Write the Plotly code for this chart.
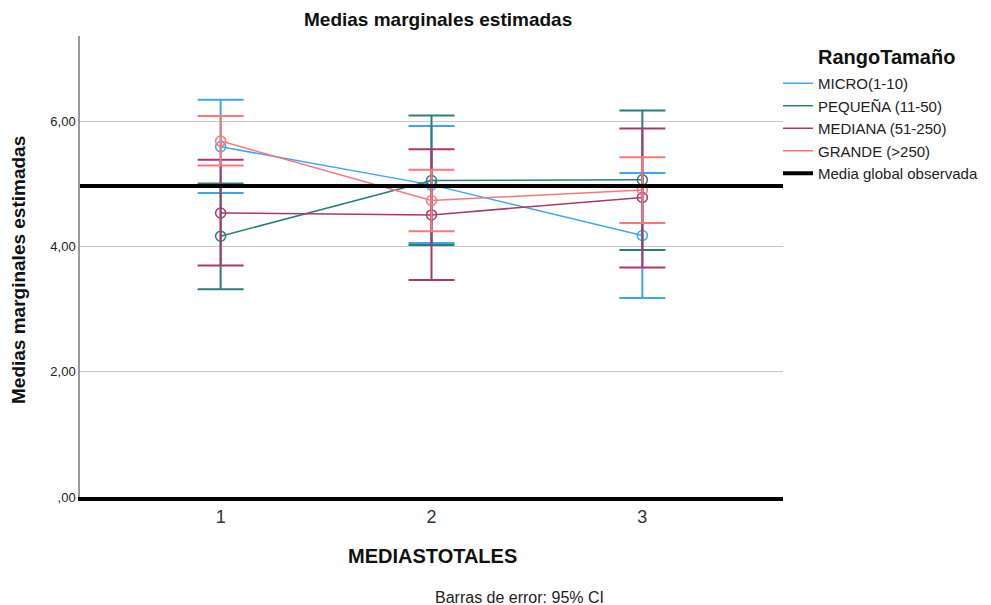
import plotly.graph_objects as go

# Estimated marginal means by MEDIASTOTALES level, one series per company size band
categories = [1, 2, 3]
series_names = ["MICRO(1-10)", "PEQUEÑA (11-50)", "MEDIANA (51-250)", "GRANDE (>250)"]

micro_mean = [5.60, 4.99, 4.18]
micro_low = [4.86, 4.06, 3.18]
micro_high = [6.35, 5.93, 5.18]

pequena_mean = [4.17, 5.06, 5.07]
pequena_low = [3.32, 4.03, 3.95]
pequena_high = [5.01, 6.10, 6.18]

mediana_mean = [4.54, 4.51, 4.79]
mediana_low = [3.70, 3.47, 3.67]
mediana_high = [5.39, 5.56, 5.89]

grande_mean = [5.69, 4.74, 4.91]
grande_low = [5.30, 4.25, 4.38]
grande_high = [6.09, 5.23, 5.43]

global_mean = 4.97

y_ticks = [0, 2, 4, 6]
y_tick_labels = [",00", "2,00", "4,00", "6,00"]
x_range = [0.333, 3.667]
y_range = [0, 7.37]

colors = ["#3ea6ec", "#2c7d77", "#a63a70", "#f7777d"]
font = "Liberation Sans, Arial, sans-serif"

series = [
    (micro_mean, micro_low, micro_high),
    (pequena_mean, pequena_low, pequena_high),
    (mediana_mean, mediana_low, mediana_high),
    (grande_mean, grande_low, grande_high),
]

# Figure geometry (pixels)
W, H = 991, 605
ML, MR, MT, MB = 80, 208, 36, 108
plot_w = W - ML - MR
plot_h = H - MT - MB


def px_to_paper(px, py):
    return (px - ML) / plot_w, (H - MB - py) / plot_h


fig = go.Figure()

for name, color, (mean, low, high) in zip(series_names, colors, series):
    fig.add_trace(go.Scatter(
        x=categories,
        y=mean,
        name=name,
        mode="lines+markers",
        showlegend=False,
        line=dict(color=color, width=1.5),
        marker=dict(symbol="circle-open", size=10, color=color, line=dict(width=1.5)),
        error_y=dict(
            type="data",
            symmetric=False,
            array=[h - m for h, m in zip(high, mean)],
            arrayminus=[m - l for m, l in zip(mean, low)],
            color=color,
            thickness=2,
            width=23,
        ),
    ))

# Legend entries drawn as plain line keys
for name, color in zip(series_names, colors):
    fig.add_trace(go.Scatter(
        x=[None], y=[None], name=name, mode="lines",
        line=dict(color=color, width=1.5),
    ))

# Observed grand mean across the whole plot width
fig.add_trace(go.Scatter(
    x=x_range,
    y=[global_mean, global_mean],
    name="Media global observada",
    mode="lines",
    line=dict(color="black", width=4),
    cliponaxis=False,
))

lx, ly = px_to_paper(778, 67)

fig.update_layout(
    width=W,
    height=H,
    margin=dict(l=ML, r=MR, t=MT, b=MB, autoexpand=False),
    paper_bgcolor="white",
    plot_bgcolor="white",
    font=dict(family=font, color="#222"),
    showlegend=True,
    legend=dict(
        x=lx, xanchor="left",
        y=ly, yanchor="top",
        font=dict(size=15, color="#222"),
        tracegroupgap=0,
        itemwidth=30,
        bgcolor="rgba(0,0,0,0)",
    ),
    xaxis=dict(
        range=x_range,
        tickvals=categories,
        ticktext=[str(c) for c in categories],
        tickfont=dict(size=18, color="#333"),
        showgrid=False,
        showline=True,
        linecolor="black",
        linewidth=4,
        ticks="",
        zeroline=False,
    ),
    yaxis=dict(
        range=y_range,
        tickvals=y_ticks,
        ticktext=y_tick_labels,
        tickfont=dict(size=13, color="#222"),
        showgrid=True,
        gridcolor="#c8c8c8",
        gridwidth=1,
        showline=True,
        linecolor="#999",
        linewidth=1.5,
        ticks="",
        zeroline=False,
    ),
)

tx, ty = px_to_paper(438, 20)
axx, axy = px_to_paper(432, 556)
fx, fy = px_to_paper(519, 597)
yx, yy = px_to_paper(18, 270)
gx, gy = px_to_paper(886, 57)

fig.add_annotation(text="<b>Medias marginales estimadas</b>", x=tx, y=ty, xref="paper", yref="paper",
                   showarrow=False, font=dict(size=19, color="#111"), yanchor="middle")
fig.add_annotation(text="<b>MEDIASTOTALES</b>", x=axx, y=axy, xref="paper", yref="paper",
                   showarrow=False, font=dict(size=20, color="#111"), yanchor="middle")
fig.add_annotation(text="Barras de error: 95% CI", x=fx, y=fy, xref="paper", yref="paper",
                   showarrow=False, font=dict(size=16, color="#222"), yanchor="middle")
fig.add_annotation(text="<b>Medias marginales estimadas</b>", x=yx, y=yy, xref="paper", yref="paper",
                   showarrow=False, textangle=-90, font=dict(size=19, color="#111"),
                   xanchor="center", yanchor="middle")
fig.add_annotation(text="<b>RangoTamaño</b>", x=gx, y=gy, xref="paper", yref="paper",
                   showarrow=False, font=dict(size=20, color="#111"),
                   xanchor="center", yanchor="middle")

fig.write_html("out.html")
